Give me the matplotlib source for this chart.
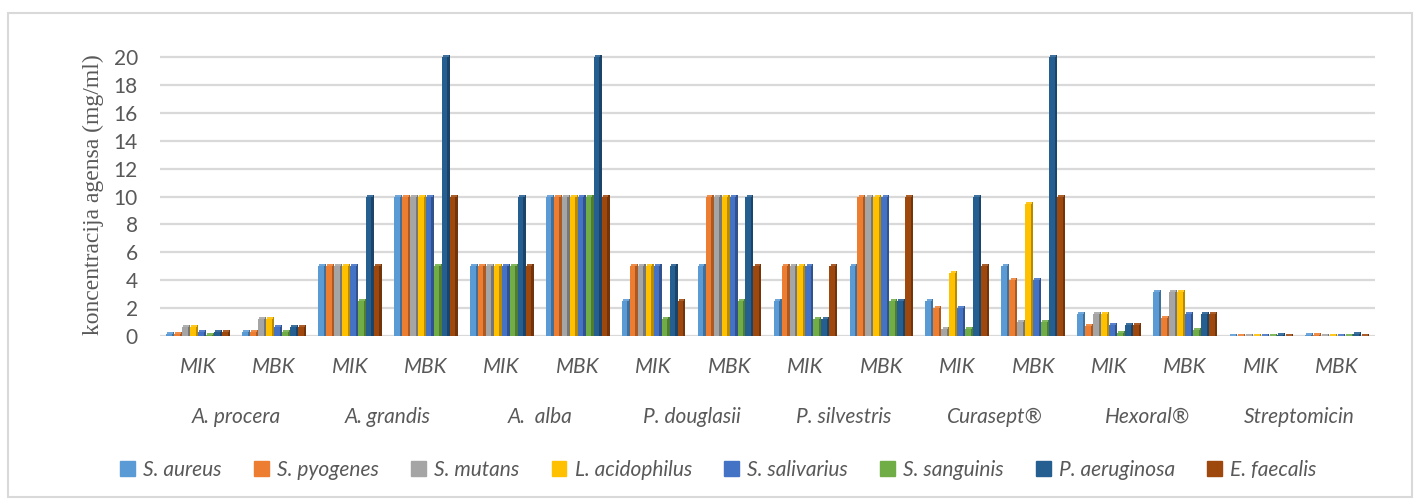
import matplotlib
matplotlib.use("Agg")
import matplotlib.pyplot as plt
import numpy as np
from matplotlib.patches import Rectangle
import matplotlib.colors as mcolors

agents = ["A. procera", "A. grandis", "A.  alba", "P. douglasii", "P. silvestris",
          "Curasept®", "Hexoral®", "Streptomicin"]
measures = ["MIK", "MBK"]
series = ["S. aureus", "S. pyogenes", "S. mutans", "L. acidophilus",
          "S. salivarius", "S. sanguinis", "P. aeruginosa", "E. faecalis"]
colors = ["#5B9BD5", "#ED7D31", "#A5A5A5", "#FFC000",
          "#4472C4", "#70AD47", "#255E91", "#9E480E"]

# values per series, 16 entries: (agent MIK, agent MBK) x 8 agents
s_aureus      = [0.156, 0.3, 5, 10, 5, 10, 2.5, 5, 2.5, 5, 2.5, 5, 1.56, 3.125, 0.03, 0.05]
s_pyogenes    = [0.156, 0.3, 5, 10, 5, 10, 5, 10, 5, 10, 2.0, 4.0, 0.7, 1.3, 0.03, 0.05]
s_mutans      = [0.625, 1.25, 5, 10, 5, 10, 5, 10, 5, 10, 0.5, 1.0, 1.56, 3.125, 0.03, 0.03]
l_acidophilus = [0.625, 1.25, 5, 10, 5, 10, 5, 10, 5, 10, 4.5, 9.5, 1.56, 3.125, 0.03, 0.03]
s_salivarius  = [0.3, 0.625, 5, 10, 5, 10, 5, 10, 5, 10, 2.0, 4.0, 0.78, 1.56, 0.03, 0.03]
s_sanguinis   = [0.1, 0.3, 2.5, 5, 5, 10, 1.25, 2.5, 1.25, 2.5, 0.5, 1.0, 0.2, 0.4, 0.03, 0.03]
p_aeruginosa  = [0.3, 0.625, 10, 20, 10, 20, 5, 10, 1.25, 2.5, 10, 20, 0.78, 1.56, 0.1, 0.15]
e_faecalis    = [0.3, 0.625, 5, 10, 5, 10, 2.5, 5, 5, 10, 5, 10, 0.78, 1.56, 0.03, 0.03]
values = [s_aureus, s_pyogenes, s_mutans, l_acidophilus,
          s_salivarius, s_sanguinis, p_aeruginosa, e_faecalis]
yticks = list(range(0, 21, 2))

font = "Lato"
txt_color = "#595959"

fig = plt.figure(figsize=(14.2, 5.04), dpi=100)
ax = fig.add_axes([160/1420, (504-336)/504, (1375-160)/1420, (336-53)/504])

n_groups = len(agents) * len(measures)
x = np.arange(n_groups)
bw = 0.105
depth = 0.03
cap = 0.14

def shade(c, f):
    r, g, b = mcolors.to_rgb(c)
    if f <= 1:
        return (r*f, g*f, b*f)
    return (r + (1-r)*(f-1), g + (1-g)*(f-1), b + (1-b)*(f-1))

for i, (vals, c) in enumerate(zip(values, colors)):
    offs = (i - 3.5) * bw
    v = np.array(vals)
    ax.bar(x + offs - depth/2, v, width=bw - depth, color=c, zorder=3,
           linewidth=0, label=series[i])
    ax.bar(x + offs + bw/2 - depth/2, v + cap, width=depth, color=shade(c, 0.72), zorder=3,
           linewidth=0)
    ax.bar(x + offs, cap, bottom=v, width=bw - depth, color=shade(c, 1.12), zorder=3,
           linewidth=0)

ax.set_xlim(-0.5, n_groups - 0.5)
ax.set_ylim(0, 20.3)
ax.set_yticks(yticks)
ax.set_yticklabels([str(t) for t in yticks], fontfamily=font, fontsize=15, color=txt_color)
ax.grid(axis="y", color="#d9d9d9", linewidth=1.6, zorder=0)
ax.set_axisbelow(True)
for sp in ax.spines.values():
    sp.set_visible(False)
ax.tick_params(axis="y", length=0, pad=16)
ax.tick_params(axis="x", length=0)
ax.set_xticks(x)
ax.set_xticklabels([m for _ in agents for m in measures], fontfamily=font,
                   fontsize=15, style="italic", color=txt_color)
ax.tick_params(axis="x", pad=15)

for j, a in enumerate(agents):
    ax.text(2*j + 0.5, -0.285, a, transform=ax.get_xaxis_transform(),
            ha="center", va="center", fontfamily=font, fontsize=15,
            style="italic", color=txt_color)

ax.set_ylabel("koncentracija agensa (mg/ml)", fontfamily="Liberation Serif",
              fontsize=17, color=txt_color, labelpad=7)

handles = [Rectangle((0, 0), 1, 1, color=c) for c in colors]
leg = fig.legend(handles, series, loc="center", bbox_to_anchor=(0.506, (504-470)/504),
                 ncol=8, frameon=False, handlelength=0.7, handleheight=0.7,
                 handletextpad=0.4, columnspacing=1.55,
                 prop={"family": font, "size": 15, "style": "italic"})
for t in leg.get_texts():
    t.set_color(txt_color)

border = Rectangle((8/1420, 7/504), (1412-8)/1420, (497-13)/504, transform=fig.transFigure,
                   fill=False, edgecolor="#d9d9d9", linewidth=1.5)
fig.patches.append(border)

fig.savefig("out.png", dpi=100, facecolor="white")
